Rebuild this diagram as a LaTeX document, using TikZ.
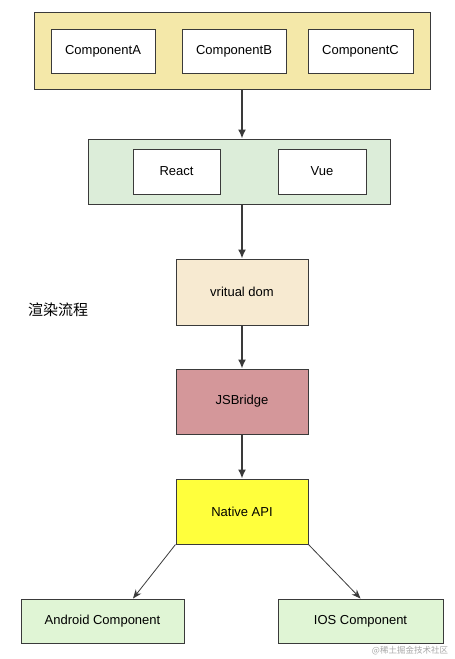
\documentclass[tikz,border=0pt]{standalone}
\usepackage{fontspec}
\setmainfont{Liberation Sans}
\newfontfamily\cjk{Noto Sans CJK SC}
\usepackage{xcolor}
\usetikzlibrary{positioning, calc, arrows.meta}

\definecolor{layerYellow}{HTML}{F4E8A9}
\definecolor{layerGreen}{HTML}{DCEDD9}
\definecolor{domBeige}{HTML}{F7EAD1}
\definecolor{bridgeRose}{HTML}{D4979A}
\definecolor{nativeYellow}{HTML}{FFFF3C}
\definecolor{platformGreen}{HTML}{E0F5D5}
\definecolor{edgeGray}{HTML}{3A3A3A}

\tikzset{
  box/.style={draw=edgeGray, line width=1pt, rectangle, inner sep=0pt,
    font=\fontsize{13}{15}\selectfont},
  flow/.style={draw=edgeGray, line width=1.6pt, -{Latex[length=9pt,width=8pt]}},
  branch/.style={draw=edgeGray, line width=0.8pt, -{Stealth[length=9pt,width=7pt]}}
}

\begin{document}
\begin{tikzpicture}[x=1pt, y=-1pt]
        \useasboundingbox (0,0) rectangle (455,659);

        % Component layer
        \node[box, fill=layerYellow, minimum width=396pt, minimum height=77pt] (comps) at (232,50.5) {};
        \node[box, fill=white, minimum width=104pt, minimum height=44pt] (compA) at (103,51) {ComponentA};
        \node[box, fill=white, minimum width=104pt, minimum height=44pt] (compB) at (234,51) {ComponentB};
        \node[box, fill=white, minimum width=105pt, minimum height=44pt] (compC) at (360.5,51) {ComponentC};

        % Framework layer
        \node[box, fill=layerGreen, minimum width=302pt, minimum height=65pt] (frameworks) at (239,171.5) {};
        \node[box, fill=white, minimum width=87pt, minimum height=45pt] (react) at (176.5,171.5) {React};
        \node[box, fill=white, minimum width=88pt, minimum height=45pt] (vue) at (322,171.5) {Vue};

        % Core pipeline
        \node[box, fill=domBeige, minimum width=132pt, minimum height=66pt] (vdom) at (242,292) {vritual dom};
        \node[box, fill=bridgeRose, minimum width=132pt, minimum height=65pt] (bridge) at (242,401.5) {JSBridge};
        \node[box, fill=nativeYellow, minimum width=132pt, minimum height=65pt] (native) at (242,511.5) {Native API};

        % Platform components
        \node[box, fill=platformGreen, minimum width=163pt, minimum height=44pt] (android) at (102.5,621) {Android Component};
        \node[box, fill=platformGreen, minimum width=165pt, minimum height=44pt] (ios) at (360.5,621) {IOS Component};

        % Side label and watermark
        \node[font=\cjk\fontsize{15}{17}\selectfont] (title) at (58,310) {渲染流程};
        \node[font=\cjk\fontsize{8.5}{10}\selectfont, text=black!35] (mark) at (410,651) {@稀土掘金技术社区};

        % Arrows
        \draw[flow] (comps.south -| vdom.center) -- (frameworks.north -| vdom.center);
        \draw[flow] (frameworks.south -| vdom.center) -- (vdom.north);
        \draw[flow] (vdom) -- (bridge);
        \draw[flow] (bridge) -- (native);
        \draw[branch] (native.south west) -- ($(android.north)+(30.5,0)$);
        \draw[branch] (native.south east) -- (ios.north);

    \end{tikzpicture}
\end{document}
